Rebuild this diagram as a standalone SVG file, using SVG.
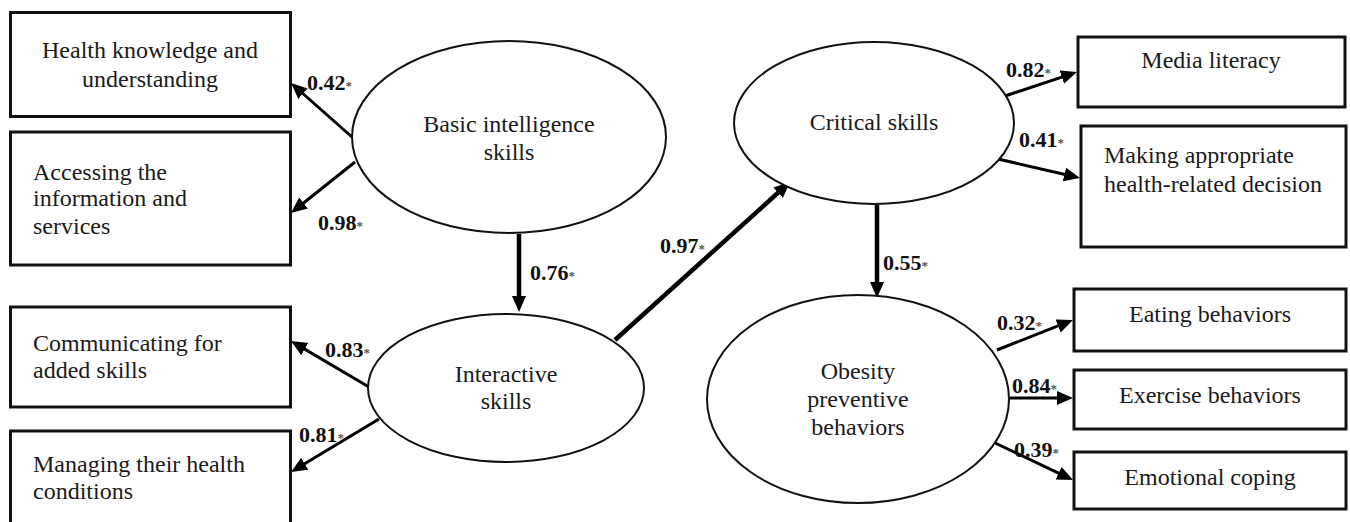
<svg xmlns="http://www.w3.org/2000/svg" width="1350" height="522" viewBox="0 0 1350 522">
<style>
.box{fill:#fff;stroke:#111;stroke-width:3}
.ell{fill:#fff;stroke:#111;stroke-width:2}
.t{font-family:"Liberation Serif","Times New Roman",serif;font-size:24px;fill:#1a1a1a}
.c{text-anchor:middle}
.lbl{font-family:"Liberation Serif","Times New Roman",serif;font-size:22px;font-weight:bold;fill:#111}
.st{font-size:13px;font-weight:bold;fill:#555}
.a{stroke:#000;stroke-width:3;fill:none;marker-end:url(#ah)}
.ab{stroke:#000;stroke-width:4.5;fill:none;marker-end:url(#ah)}
</style>
<defs>
<marker id="ah" markerUnits="userSpaceOnUse" markerWidth="18" markerHeight="16" refX="4" refY="7" orient="auto">
<path d="M0,0 L16,7 L0,14 z" fill="#000"/>
</marker>
</defs>
<g id="connectors">
<line class="a" x1="352" y1="137" x2="300" y2="91"/>
<line class="a" x1="355" y1="162" x2="300.4" y2="205.5"/>
<line class="ab" x1="519" y1="234" x2="519" y2="300"/>
<line class="ab" x1="615" y1="340" x2="781.1" y2="190"/>
<line class="a" x1="369" y1="387" x2="301.3" y2="347.1"/>
<line class="a" x1="379" y1="419" x2="301.3" y2="465.8"/>
<line class="a" x1="1005" y1="96" x2="1065.6" y2="75.8"/>
<line class="a" x1="998" y1="159" x2="1068.3" y2="175.3"/>
<line class="ab" x1="877" y1="205" x2="877" y2="286"/>
<line class="a" x1="997" y1="350" x2="1061.8" y2="324.4"/>
<line class="a" x1="1010" y1="398" x2="1061" y2="398"/>
<line class="a" x1="993" y1="442" x2="1062.2" y2="474.9"/>
<text class="lbl" x="307" y="90">0.42<tspan class="st">*</tspan></text>
<text class="lbl" x="318" y="230">0.98<tspan class="st">*</tspan></text>
<text class="lbl" x="530" y="280">0.76<tspan class="st">*</tspan></text>
<text class="lbl" x="660" y="253">0.97<tspan class="st">*</tspan></text>
<text class="lbl" x="325" y="357">0.83<tspan class="st">*</tspan></text>
<text class="lbl" x="299" y="442">0.81<tspan class="st">*</tspan></text>
<text class="lbl" x="1006" y="77">0.82<tspan class="st">*</tspan></text>
<text class="lbl" x="1019" y="147">0.41<tspan class="st">*</tspan></text>
<text class="lbl" x="883" y="270">0.55<tspan class="st">*</tspan></text>
<text class="lbl" x="997" y="330">0.32<tspan class="st">*</tspan></text>
<text class="lbl" x="1012" y="393">0.84<tspan class="st">*</tspan></text>
<text class="lbl" x="1014" y="457">0.39<tspan class="st">*</tspan></text>
</g>
<g id="n-health-knowledge">
<rect class="box" x="10.5" y="12.5" width="280" height="104"/>
<text class="t c" x="150" y="58">Health knowledge and</text>
<text class="t c" x="150" y="87">understanding</text>
</g>
<g id="n-accessing">
<rect class="box" x="10.5" y="132" width="280" height="133"/>
<text class="t" x="33" y="180">Accessing the</text>
<text class="t" x="33" y="206">information and</text>
<text class="t" x="33" y="234">services</text>
</g>
<g id="n-communicating">
<rect class="box" x="10.5" y="307" width="280" height="100"/>
<text class="t" x="33" y="351">Communicating for</text>
<text class="t" x="33" y="378">added skills</text>
</g>
<g id="n-managing">
<rect class="box" x="10.5" y="431" width="280" height="100"/>
<text class="t" x="33" y="472">Managing their health</text>
<text class="t" x="33" y="499">conditions</text>
</g>
<g id="n-basic">
<ellipse class="ell" cx="509" cy="137" rx="157" ry="96"/>
<text class="t c" x="509" y="132">Basic intelligence</text>
<text class="t c" x="509" y="160">skills</text>
</g>
<g id="n-interactive">
<ellipse class="ell" cx="506" cy="388" rx="138" ry="74"/>
<text class="t c" x="506" y="382">Interactive</text>
<text class="t c" x="506" y="409">skills</text>
</g>
<g id="n-critical">
<ellipse class="ell" cx="874" cy="123" rx="140" ry="81"/>
<text class="t c" x="874" y="130">Critical skills</text>
</g>
<g id="n-obesity">
<ellipse class="ell" cx="858" cy="399" rx="151" ry="104"/>
<text class="t c" x="858" y="379">Obesity</text>
<text class="t c" x="858" y="407">preventive</text>
<text class="t c" x="858" y="435">behaviors</text>
</g>
<g id="n-media">
<rect class="box" x="1078" y="37" width="267" height="70"/>
<text class="t c" x="1211" y="68">Media literacy</text>
</g>
<g id="n-making">
<rect class="box" x="1081" y="126" width="265" height="121"/>
<text class="t" x="1104" y="163">Making appropriate</text>
<text class="t" x="1104" y="192">health-related decision</text>
</g>
<g id="n-eating">
<rect class="box" x="1074" y="289" width="272" height="62"/>
<text class="t c" x="1210" y="322">Eating behaviors</text>
</g>
<g id="n-exercise">
<rect class="box" x="1074" y="370" width="272" height="59"/>
<text class="t c" x="1210" y="403">Exercise behaviors</text>
</g>
<g id="n-emotional">
<rect class="box" x="1074" y="452" width="272" height="57"/>
<text class="t c" x="1210" y="485">Emotional coping</text>
</g>
</svg>
